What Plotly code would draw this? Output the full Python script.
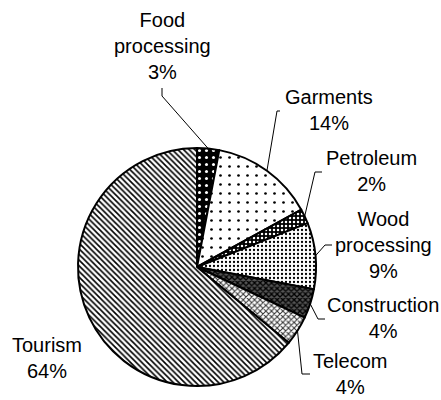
import math
import plotly.graph_objects as go

# ---- data ----
sectors = ["Food processing", "Garments", "Petroleum", "Wood processing",
           "Construction", "Telecom", "Tourism"]
label_text = ["Food<br>processing", "Garments", "Petroleum", "Wood<br>processing",
              "Construction", "Telecom", "Tourism"]
shares = [3, 14, 2, 9, 4, 4, 64]

# ---- layout / style ----
W, H = 441, 400
cx, cy, R = 197, 267, 119  # pie centre & radius in pixels

shapes_pat = [".", ".", ".", ".", "x", "x", "\\"]
bgcols = ["black", "white", "black", "white", "#555555", "white", "white"]
fgcols = ["white", "black", "white", "black", "black", "#333333", "black"]
sizes = [7, 9, 4, 4, 4, 4, 4]
solid = [0.15, 0.07, 0.3, 0.25, 0.55, 0.45, 0.4]

# label anchor (centre of text block) and leader knee / end points, pixels
label_pos = [(162, 46), (329, 110), (371, 171), (383, 245), (383, 318), (350, 374), (47, 358)]
leader = [
    [(162, 88), (162, 96)],
    [(280, 111), (277, 111)],
    [(322, 172), (315, 172)],
    [(332, 245), (325, 245)],
    [(325, 319), (318, 319)],
    [(310, 374), (302, 374)],
    None,
]

def px(x):
    return x / W

def py(y):
    return 1 - y / H

fig = go.Figure(go.Pie(
    labels=sectors, values=shares, sort=False, direction="clockwise", rotation=0,
    textinfo="none", hoverinfo="label+percent",
    marker=dict(colors=bgcols, line=dict(color="black", width=2),
                pattern=dict(shape=shapes_pat, bgcolor=bgcols, fgcolor=fgcols,
                             size=sizes, solidity=solid, fillmode="replace")),
    domain=dict(x=[px(cx - R), px(cx + R)], y=[py(cy + R), py(cy - R)]),
    showlegend=False,
))

total = sum(shares)
annotations = []
shapes = []
cum = 0
for i, v in enumerate(shares):
    mid = (cum + v / 2) / total * 2 * math.pi
    cum += v
    ex = cx + R * math.sin(mid)
    ey = cy - R * math.cos(mid)
    lx, ly = label_pos[i]
    annotations.append(dict(
        x=px(lx), y=py(ly), xref="paper", yref="paper",
        text=f"{label_text[i]}<br>{round(v / total * 100)}%",
        showarrow=False, xanchor="center", yanchor="middle", borderpad=0,
        font=dict(family="Liberation Sans, Arial, sans-serif", size=20, color="black"),
    ))
    if leader[i]:
        pts = leader[i] + [(ex, ey)]
        path = "M " + " L ".join(f"{px(a)},{py(b)}" for a, b in pts)
        shapes.append(dict(type="path", xref="paper", yref="paper", path=path,
                           line=dict(color="black", width=1)))

fig.update_layout(
    width=W, height=H, margin=dict(l=0, r=0, t=0, b=0),
    paper_bgcolor="white", plot_bgcolor="white",
    annotations=annotations, shapes=shapes,
)

fig.write_html("out.html", config={"displayModeBar": False},
               post_script="document.body.style.margin='0';document.body.style.overflow='hidden';")
